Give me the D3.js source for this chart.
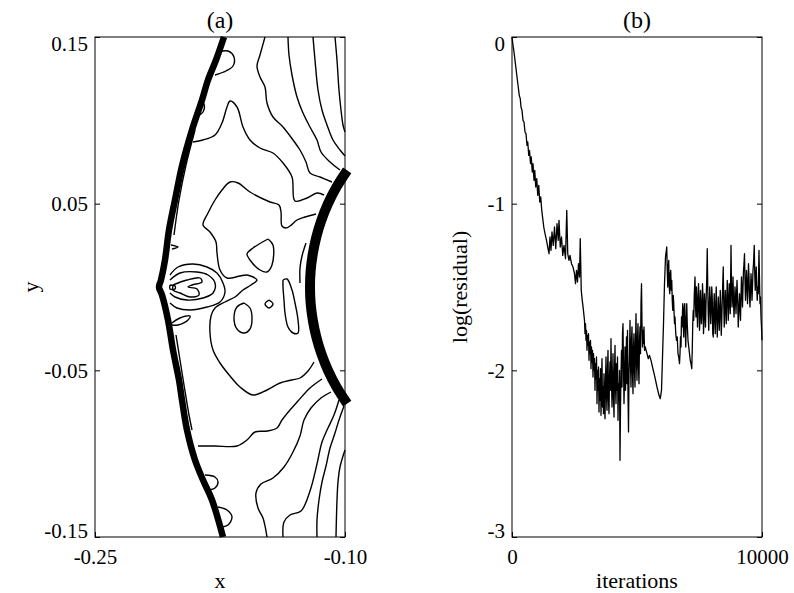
<!DOCTYPE html>
<html>
<head>
<meta charset="utf-8">
<script src="https://cdn.jsdelivr.net/npm/d3@7"></script>
<style>
  body { margin: 0; background: #fff; }
  svg { display: block; font-family: "Liberation Serif", "Times New Roman", serif; }
</style>
</head>
<body>
<svg id="chart" width="794" height="593"></svg>
<script>
// ---------- panel (a): contour lines, flow coordinates (x, y)
const shock = [[-0.1726,0.15],[-0.1774,0.1362],[-0.1822,0.1242],[-0.1858,0.1122],[-0.1918,0.0942],[-0.1978,0.0726],[-0.2020,0.0522],[-0.2056,0.0342],[-0.2080,0.0162],[-0.2104,0.0042],[-0.2116,0],[-0.2098,-0.0048],[-0.2062,-0.0198],[-0.2032,-0.0378],[-0.1996,-0.0558],[-0.1978,-0.0678],[-0.1948,-0.0858],[-0.1900,-0.1038],[-0.1852,-0.1158],[-0.1798,-0.1278],[-0.1732,-0.15]];
const shockInnerUpper = [[-0.1900,0.0942],[-0.1954,0.0732],[-0.1996,0.0522],[-0.2026,0.0312]];
const shockInnerLower = [[-0.2014,-0.0288],[-0.1990,-0.0438],[-0.1966,-0.0588],[-0.1936,-0.0768],[-0.1918,-0.0858]];
const body = [[-0.0987,0.07],[-0.1051,0.06],[-0.1102,0.05],[-0.1142,0.04],[-0.1172,0.03],[-0.1193,0.02],[-0.1206,0.01],[-0.121,0],[-0.1206,-0.01],[-0.1193,-0.02],[-0.1172,-0.03],[-0.1142,-0.04],[-0.1102,-0.05],[-0.1051,-0.06],[-0.0987,-0.07]];

const lineA = [[-0.106,0.15],[-0.1048,0.1362],[-0.1036,0.1182],[-0.1024,0.1062],[-0.1012,0.0972],[-0.1,0.093]];
const lineB = [[-0.1192,0.15],[-0.118,0.1362],[-0.1162,0.1182],[-0.1138,0.1062],[-0.1108,0.0972],[-0.1072,0.0882],[-0.103,0.0822],[-0.1,0.0786]];
const lineC = [[-0.1342,0.15],[-0.1336,0.1392],[-0.1318,0.1272],[-0.1288,0.114],[-0.1252,0.1044],[-0.121,0.096],[-0.1168,0.0882],[-0.1144,0.081],[-0.109,0.075],[-0.103,0.0702]];
const lineD = [[-0.148,0.15],[-0.151,0.1392],[-0.1528,0.1326],[-0.151,0.126],[-0.148,0.12],[-0.1468,0.1104],[-0.1432,0.102],[-0.1372,0.096],[-0.1312,0.0882],[-0.127,0.0822],[-0.1234,0.075],[-0.121,0.0684],[-0.115,0.066],[-0.1078,0.063]];
const lineE = [[-0.1912,0.087],[-0.1852,0.0882],[-0.178,0.0912],[-0.1738,0.0984],[-0.1708,0.108],[-0.169,0.1116],[-0.1648,0.108],[-0.1612,0.096],[-0.157,0.0882],[-0.151,0.0834],[-0.1432,0.0804],[-0.1372,0.0744],[-0.1318,0.066],[-0.13,0.0516],[-0.1228,0.0534],[-0.1168,0.0564],[-0.1126,0.0552]];
const loopTop = [[-0.1756,0.141],[-0.1702,0.1416],[-0.1666,0.138],[-0.1672,0.1326],[-0.1714,0.1296],[-0.178,0.1272]];
const bumpTop = [[-0.187,0.1122],[-0.1846,0.1098],[-0.1852,0.105],[-0.1882,0.1026]];
const lineF = [[-0.1174,0.0438],[-0.124,0.042],[-0.1288,0.0402],[-0.133,0.0366],[-0.1354,0.0354],[-0.1378,0.0366],[-0.1384,0.045],[-0.1396,0.0492],[-0.145,0.051],[-0.157,0.057],[-0.1642,0.0624],[-0.169,0.063],[-0.1738,0.0582],[-0.178,0.0522],[-0.1822,0.0444],[-0.1852,0.0372],[-0.181,0.033],[-0.1774,0.027],[-0.1768,0.0204],[-0.175,0.0102],[-0.1708,0.0054],[-0.163,0.0066],[-0.1588,0.0072],[-0.1528,0.0042],[-0.1564,0.0012],[-0.1612,-0.0018],[-0.166,-0.006],[-0.172,-0.009],[-0.178,-0.0126],[-0.1804,-0.0174],[-0.181,-0.0276],[-0.1792,-0.0378],[-0.175,-0.0456],[-0.169,-0.0534],[-0.163,-0.06],[-0.1552,-0.0648],[-0.1468,-0.0618],[-0.139,-0.0576],[-0.1318,-0.0558],[-0.127,-0.0546],[-0.1222,-0.0504],[-0.1186,-0.045]];
const loopG = [[-0.1462,0.0288],[-0.1432,0.0252],[-0.1438,0.0132],[-0.1468,0.009],[-0.151,0.0102],[-0.157,0.0162],[-0.1588,0.0198],[-0.1552,0.0234],[-0.1462,0.0288]];
const loopH = [[-0.1606,-0.0096],[-0.157,-0.0126],[-0.1558,-0.0186],[-0.157,-0.0252],[-0.1606,-0.0276],[-0.1648,-0.0252],[-0.1666,-0.0186],[-0.1648,-0.012],[-0.1606,-0.0096]];
const loopI = [[-0.1456,-0.0078],[-0.1432,-0.0102],[-0.1456,-0.0126],[-0.148,-0.0102],[-0.1456,-0.0078]];
const loopJ = [[-0.1372,0.0042],[-0.1348,0.0048],[-0.1318,-0.0018],[-0.13,-0.0096],[-0.1282,-0.0198],[-0.1282,-0.0276],[-0.1312,-0.0276],[-0.1342,-0.024],[-0.136,-0.0156],[-0.1366,-0.0078],[-0.1372,0],[-0.1372,0.0042]];
const lineK = [[-0.1234,0.0264],[-0.1258,0.0186],[-0.127,0.0114],[-0.127,0.0024]];
const eyeOuter = [[-0.205,0.0072],[-0.2002,0.012],[-0.1912,0.0138],[-0.1828,0.012],[-0.1768,0.0084],[-0.1732,0.0024],[-0.172,-0.003],[-0.175,-0.009],[-0.1828,-0.012],[-0.193,-0.0138],[-0.2008,-0.0126],[-0.205,-0.0096]];
const eyeMiddle = [[-0.205,0.0042],[-0.199,0.0084],[-0.1888,0.009],[-0.1822,0.0072],[-0.178,0.0024],[-0.1792,-0.0036],[-0.1852,-0.0066],[-0.1948,-0.0078],[-0.202,-0.006],[-0.205,-0.0036]];
const eyeInner = [[-0.2032,0.0012],[-0.1948,0.0042],[-0.187,0.0054],[-0.1858,0.003],[-0.1918,0.0012],[-0.1942,0],[-0.1888,-0.0012],[-0.1876,-0.0048],[-0.193,-0.006],[-0.199,-0.0036],[-0.2032,-0.0018],[-0.2032,0.0012]];
const eyeDot = [[-0.205,0.0012],[-0.202,0.0006],[-0.202,-0.0012],[-0.205,-0.0012],[-0.205,0.0012]];
const tongueP = [[-0.2044,0.0252],[-0.2002,0.024],[-0.2038,0.0228]];
const tongueQ = [[-0.2038,-0.0216],[-0.199,-0.0186],[-0.193,-0.0174],[-0.1942,-0.0198],[-0.2002,-0.0228],[-0.2038,-0.0228]];
const lineS1 = [[-0.1882,-0.0954],[-0.178,-0.0954],[-0.1648,-0.0954],[-0.1588,-0.0918],[-0.154,-0.087],[-0.1468,-0.0864],[-0.1408,-0.0846],[-0.1378,-0.0798],[-0.133,-0.0738],[-0.1282,-0.0684],[-0.121,-0.0606],[-0.1138,-0.0552]];
const lineS2 = [[-0.1084,-0.063],[-0.1144,-0.0666],[-0.1204,-0.0726],[-0.1246,-0.0798],[-0.127,-0.0894],[-0.1312,-0.099],[-0.1366,-0.108],[-0.1432,-0.1146],[-0.1504,-0.1182],[-0.1534,-0.1236],[-0.1522,-0.1326],[-0.1492,-0.1386],[-0.1468,-0.15]];
const lineS3 = [[-0.1036,-0.0678],[-0.1066,-0.0768],[-0.1102,-0.0846],[-0.1138,-0.093],[-0.1168,-0.1062],[-0.121,-0.1224],[-0.1264,-0.1344],[-0.133,-0.1368],[-0.1366,-0.141],[-0.1372,-0.15]];
const lineS4 = [[-0.1006,-0.0714],[-0.1036,-0.0798],[-0.106,-0.0876],[-0.109,-0.0966],[-0.1114,-0.1074],[-0.1138,-0.117],[-0.1156,-0.1278],[-0.1168,-0.1398],[-0.1168,-0.15]];
const lineS5 = [[-0.1,-0.0978],[-0.103,-0.108],[-0.1042,-0.117],[-0.1048,-0.1278],[-0.1054,-0.15]];
const loopT1 = [[-0.184,-0.1128],[-0.178,-0.114],[-0.1762,-0.117],[-0.178,-0.1206],[-0.1816,-0.1218]];
const loopT2 = [[-0.1762,-0.132],[-0.1708,-0.1338],[-0.1678,-0.138],[-0.1702,-0.1428],[-0.1738,-0.144]];

const contours = [lineA, lineB, lineC, lineD, lineE, loopTop, bumpTop, lineF, loopG, loopH, loopI, loopJ, lineK,
  eyeOuter, eyeMiddle, eyeInner, eyeDot, tongueP, tongueQ, lineS1, lineS2, lineS3, lineS4, lineS5, loopT1, loopT2,
  shockInnerUpper, shockInnerLower];

const xTicksA = [-0.25, -0.10], xLabelsA = ["-0.25", "-0.10"];
const yTicksA = [0.15, 0.05, -0.05, -0.15], yLabelsA = ["0.15", "0.05", "-0.05", "-0.15"];

// ---------- panel (b): convergence history [iteration, log(residual)]
const residual = [
[0,0],[40,-0.05],[80,-0.09],[120,-0.14],[160,-0.19],[200,-0.24],[250,-0.30],[290,-0.35],[330,-0.37],[360,-0.42],[400,-0.44],[440,-0.50],[480,-0.51],[520,-0.57],[560,-0.58],[600,-0.65],[630,-0.63],[670,-0.71],[700,-0.68],[740,-0.76],[770,-0.72],[810,-0.81],[840,-0.76],[880,-0.86],[910,-0.80],[950,-0.90],[990,-0.85],[1030,-0.95],[1070,-0.89],[1110,-0.99],[1150,-0.96],[1190,-1.04],
[1230,-1.09],[1270,-1.14],[1320,-1.18],[1380,-1.22],[1440,-1.27],[1480,-1.30],[1520,-1.20],[1560,-1.28],[1600,-1.17],[1650,-1.25],[1700,-1.14],[1750,-1.27],[1800,-1.12],[1850,-1.22],[1880,-1.10],[1930,-1.26],[1980,-1.20],[2030,-1.31],[2080,-1.25],[2140,-1.33],[2190,-1.04],[2230,-1.30],[2280,-1.34],[2320,-1.31],[2380,-1.36],[2440,-1.38],[2500,-1.42],[2540,-1.48],[2580,-1.40],[2620,-1.47],[2660,-1.36],[2700,-1.44],[2730,-1.21],[2770,-1.52],[2810,-1.58],[2850,-1.63],
[2900,-1.70],[2920,-1.78],[2940,-1.72],[2960,-1.82],[2980,-1.76],[3000,-1.88],[3020,-1.79],[3040,-1.85],[3060,-1.78],[3080,-1.94],[3100,-1.83],[3120,-1.90],[3140,-1.82],[3160,-1.99],[3180,-1.86],[3200,-1.95],[3220,-1.88],[3240,-2.04],[3260,-1.90],[3280,-2.00],[3300,-1.93],[3320,-2.12],[3340,-1.96],[3360,-2.05],[3380,-1.92],[3400,-2.20],[3420,-2.00],[3440,-2.12],[3460,-1.98],[3480,-2.25],[3500,-2.05],[3520,-2.18],[3540,-1.99],[3560,-2.27],[3580,-2.08],[3600,-1.93],[3620,-2.22],[3640,-2.10],[3660,-2.26],[3680,-2.02],[3700,-2.20],[3720,-2.29],[3740,-2.06],[3760,-1.92],[3780,-2.15],[3800,-2.24],[3820,-2.00],[3840,-1.88],[3860,-2.18],[3880,-2.26],[3900,-2.04],[3920,-1.95],[3940,-2.12],[3960,-1.81],[3980,-2.05],[4000,-2.22],[4020,-2.08],[4040,-1.90],[4060,-2.16],[4080,-2.28],[4100,-2.02],[4120,-1.85],[4140,-2.10],[4160,-2.20],[4180,-1.96],[4200,-2.12],[4220,-1.92],[4240,-2.30],[4260,-2.08],[4280,-2.18],[4300,-2.00],[4320,-2.54],[4340,-2.22],[4360,-2.02],[4380,-1.88],[4400,-2.10],[4420,-1.78],[4440,-1.72],[4460,-1.98],[4480,-2.20],[4500,-2.05],[4520,-1.86],[4540,-2.12],[4560,-1.95],[4580,-1.80],[4600,-2.08],[4620,-1.76],[4640,-2.15],[4660,-2.37],[4680,-2.02],[4700,-1.90],[4720,-1.70],[4740,-1.96],[4760,-2.10],[4780,-1.82],[4800,-1.74],[4820,-2.02],[4840,-2.14],[4860,-1.86],[4880,-1.78],[4900,-2.00],[4920,-2.10],[4940,-1.84],[4960,-1.66],[4980,-1.95],[5000,-2.06],[5020,-1.80],[5040,-1.72],[5060,-1.98],[5080,-2.08],[5100,-1.82],[5120,-1.74],[5140,-1.90],[5160,-1.60],[5180,-1.48],[5200,-1.72],[5220,-1.86],[5240,-1.76],[5260,-1.84],[5280,-1.74],[5300,-1.88],[5330,-1.86],
[5400,-1.90],[5450,-1.93],[5500,-1.91],[5560,-1.94],[5620,-1.98],[5700,-2.03],[5800,-2.10],[5880,-2.15],[5930,-2.17],[5980,-2.12],[6020,-1.92],[6060,-1.72],[6100,-1.48],[6140,-1.32],
[6190,-1.26],[6210,-1.40],[6230,-1.50],[6250,-1.38],[6270,-1.34],[6290,-1.50],[6310,-1.54],[6330,-1.42],[6350,-1.40],[6370,-1.52],[6390,-1.46],[6410,-1.58],[6430,-1.64],[6450,-1.55],[6470,-1.60],[6500,-1.72],[6520,-1.68],[6550,-1.78],[6580,-1.82],[6610,-1.80],[6640,-1.90],[6670,-1.92],[6700,-1.96],[6720,-1.90],[6740,-1.80],[6760,-1.86],[6780,-1.68],[6800,-1.74],[6830,-1.60],[6850,-1.72],[6870,-1.80],[6890,-1.62],[6910,-1.60],[6930,-1.76],[6950,-1.86],[6970,-1.70],[6990,-1.60],[7010,-1.72],[7040,-1.82],[7070,-1.86],[7100,-1.90],[7130,-1.94],[7160,-1.96],[7190,-1.99],[7210,-1.88],[7230,-1.72],[7250,-1.64],[7270,-1.70],[7290,-1.55],
[7320,-1.44],[7340,-1.62],[7360,-1.68],[7380,-1.50],[7400,-1.58],[7420,-1.74],[7440,-1.62],[7460,-1.48],[7480,-1.56],[7500,-1.76],[7520,-1.70],[7540,-1.52],[7560,-1.60],[7580,-1.72],[7600,-1.66],[7620,-1.48],[7640,-1.56],[7660,-1.78],[7680,-1.70],[7700,-1.54],[7720,-1.62],[7740,-1.74],[7760,-1.60],[7790,-1.45],[7810,-1.27],[7830,-1.50],[7850,-1.66],[7870,-1.76],[7890,-1.62],[7910,-1.50],[7930,-1.58],[7950,-1.72],[7970,-1.64],[7990,-1.50],[8010,-1.56],[8030,-1.78],[8050,-1.80],[8070,-1.62],[8090,-1.54],[8110,-1.70],[8130,-1.78],[8150,-1.60],[8170,-1.50],[8190,-1.68],[8210,-1.80],[8230,-1.70],[8250,-1.56],[8270,-1.64],[8290,-1.76],[8310,-1.66],[8330,-1.52],[8350,-1.62],[8370,-1.79],[8390,-1.70],[8410,-1.58],[8430,-1.48],[8450,-1.38],[8470,-1.60],[8490,-1.74],[8510,-1.64],[8530,-1.52],[8550,-1.62],[8570,-1.72],[8590,-1.58],[8610,-1.46],[8630,-1.56],[8650,-1.70],[8670,-1.62],[8690,-1.48],[8710,-1.55],[8730,-1.66],[8750,-1.40],[8760,-1.25],[8780,-1.48],[8800,-1.62],[8820,-1.56],[8840,-1.44],[8860,-1.58],[8880,-1.68],[8900,-1.60],[8920,-1.50],[8940,-1.56],[8960,-1.66],[8980,-1.56],
[9000,-1.46],[9030,-1.60],[9050,-1.74],[9070,-1.66],[9100,-1.54],[9120,-1.62],[9140,-1.70],[9160,-1.56],[9180,-1.44],[9200,-1.52],[9220,-1.62],[9240,-1.50],[9260,-1.40],[9280,-1.36],[9300,-1.30],[9320,-1.46],[9340,-1.58],[9360,-1.50],[9380,-1.40],[9400,-1.48],[9420,-1.60],[9440,-1.50],[9460,-1.36],[9480,-1.44],[9500,-1.56],[9520,-1.62],[9540,-1.52],[9560,-1.42],[9580,-1.48],[9600,-1.58],[9620,-1.50],[9640,-1.40],[9660,-1.36],[9690,-1.25],[9710,-1.42],[9730,-1.52],[9750,-1.44],[9770,-1.38],[9790,-1.50],[9810,-1.58],[9830,-1.50],[9850,-1.54],[9870,-1.36],[9880,-1.28],[9900,-1.46],[9920,-1.60],[9940,-1.56],[9960,-1.68],[9980,-1.74],[10000,-1.82]
];

const xTicksB = [0, 10000], xLabelsB = ["0", "10000"];
const yTicksB = [0, -1, -2, -3], yLabelsB = ["0", "-1", "-2", "-3"];

// ---------- layout
const svg = d3.select("#chart");
const plotTop = 37, plotBottom = 537;
const tickLen = 5;

function frame(g, x, y, xt, xl, yt, yl, title, xTitle) {
  const [x0, x1] = x.range();
  const yAxis = d3.axisLeft(y).tickValues(yt).tickFormat((d, i) => yl[i]).tickSize(-tickLen).tickPadding(7);
  const yAxisR = d3.axisRight(y).tickValues(yt).tickFormat("").tickSize(-tickLen);
  const xAxis = d3.axisBottom(x).tickValues(xt).tickFormat((d, i) => xl[i]).tickSize(-tickLen).tickPadding(12);

  const yg = g.append("g").attr("transform", `translate(${x0},0)`).call(yAxis);
  const yr = g.append("g").attr("transform", `translate(${x1},0)`).call(yAxisR);
  const xg = g.append("g").attr("transform", `translate(0,${plotBottom})`).call(xAxis);

  [yg, yr, xg].forEach(a => {
    a.select(".domain").remove();
    a.selectAll("line").attr("stroke", "#000");
    a.selectAll("text").attr("font-size", 21).attr("fill", "#000")
      .attr("font-family", "Liberation Serif, Times New Roman, serif");
  });
  // end labels sit inside the frame height, as in the original
  yg.selectAll(".tick text").attr("transform", d => d === yt[0] ? "translate(0,7)" : d === yt[yt.length - 1] ? "translate(0,-6)" : null);

  g.append("rect").attr("x", x0).attr("y", plotTop).attr("width", x1 - x0).attr("height", plotBottom - plotTop)
    .attr("fill", "none").attr("stroke", "#000").attr("stroke-width", 1);

  const cx = (x0 + x1) / 2;
  g.append("text").attr("x", cx).attr("y", 28).attr("text-anchor", "middle").attr("font-size", 24).text(title);
  g.append("text").attr("x", cx).attr("y", 588).attr("text-anchor", "middle").attr("font-size", 22).text(xTitle);
}

// ---------- panel (a)
const xa = d3.scaleLinear().domain([-0.25, -0.10]).range([95, 345]);
const ya = d3.scaleLinear().domain([-0.15, 0.15]).range([plotBottom, plotTop]);
const gA = svg.append("g");
const contourLine = d3.line().x(d => xa(d[0])).y(d => ya(d[1])).curve(d3.curveCatmullRom.alpha(0.5));

gA.selectAll("path.contour").data(contours).join("path").attr("class", "contour")
  .attr("d", contourLine).attr("fill", "none").attr("stroke", "#000").attr("stroke-width", 1.4)
  .attr("stroke-linejoin", "round");
gA.append("path").attr("d", contourLine(shock)).attr("fill", "none").attr("stroke", "#000")
  .attr("stroke-width", 6.5).attr("stroke-linejoin", "round");
gA.append("path").attr("d", contourLine(body)).attr("fill", "none").attr("stroke", "#000")
  .attr("stroke-width", 10).attr("stroke-linecap", "butt");

frame(gA, xa, ya, xTicksA, xLabelsA, yTicksA, yLabelsA, "(a)", "x");
gA.append("text").attr("transform", "translate(38,287) rotate(-90)").attr("text-anchor", "middle")
  .attr("font-size", 22).text("y");

// ---------- panel (b)
const xb = d3.scaleLinear().domain([0, 10000]).range([512, 762]);
const yb = d3.scaleLinear().domain([-3, 0]).range([plotBottom, plotTop]);
const gB = svg.append("g");
gB.append("path").datum(residual)
  .attr("d", d3.line().x(d => xb(d[0])).y(d => yb(d[1])))
  .attr("fill", "none").attr("stroke", "#000").attr("stroke-width", 1.3).attr("stroke-linejoin", "round");

frame(gB, xb, yb, xTicksB, xLabelsB, yTicksB, yLabelsB, "(b)", "iterations");
gB.append("text").attr("transform", "translate(467,287) rotate(-90)").attr("text-anchor", "middle")
  .attr("font-size", 22).text("log(residual)");
</script>
</body>
</html>
